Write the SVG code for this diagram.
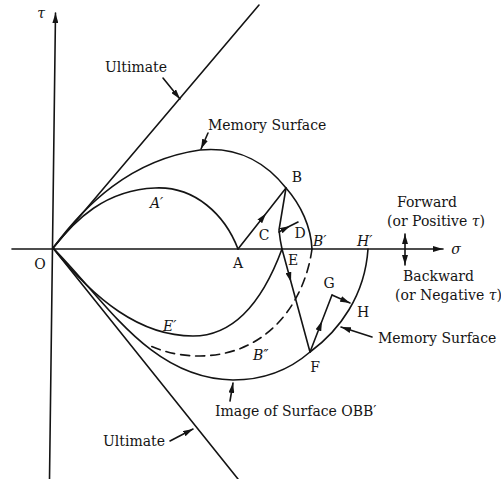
<svg xmlns="http://www.w3.org/2000/svg" width="501" height="479" viewBox="0 0 501 479">
<style>
.ln{fill:none;stroke:#141414;stroke-width:1.6;stroke-linecap:round;stroke-linejoin:round}
.dash{stroke-dasharray:9,6}
.t{font-family:"DejaVu Serif","Liberation Serif",serif;font-size:14px;fill:#141414}
.it{font-style:italic}
.m{text-anchor:middle}
</style>
<defs>
<marker id="ah" viewBox="0 0 10 6" refX="10" refY="3" markerWidth="10" markerHeight="6" markerUnits="userSpaceOnUse" orient="auto-start-reverse">
<path d="M0,0 L10,3 L0,6 z" fill="#141414"/>
</marker>
</defs>
<rect width="501" height="479" fill="#fff"/>
<g id="axes">
<line class="ln" x1="49.5" y1="479" x2="55.5" y2="13" marker-end="url(#ah)"/>
<line class="ln" x1="12" y1="249" x2="443" y2="249" marker-end="url(#ah)"/>
<line class="ln" x1="405" y1="234" x2="405" y2="265" marker-start="url(#ah)" marker-end="url(#ah)"/>
</g>
<g id="ultimate">
<line class="ln" x1="53" y1="248" x2="259" y2="5"/>
<line class="ln" x1="53" y1="248" x2="238" y2="479"/>
</g>
<g id="curves">
<path id="memory-upper" class="ln" d="M53,248 C85,205 130,160 200,150 C240,146 268,165 286,188 C301,205 311,227 312,249"/>
<path id="a-prime" class="ln" d="M53,248 C75,220 105,190 155,188 C195,186 225,215 238,249"/>
<path id="e-prime" class="ln" d="M53,248 C95,300 140,336 193,336 C233,336 262,303 282,249"/>
<path id="image-curve" class="ln" d="M53,248 C105,300 150,379 233,380 C270,380 295,365 310,352 C340,330 365,295 368,249"/>
<path id="b-dbl" class="ln dash" d="M312,249 C305,300 270,355 200,356 C175,356 160,350 148,345"/>
</g>
<g id="connectors">
<path class="ln" d="M238,249 L266,213.5 L286,188" marker-mid="url(#ah)"/>
<path class="ln" d="M286,188 L279,230 Q280,240 282,249"/>
<path class="ln" d="M282,249 L291,282 L310,352" marker-mid="url(#ah)"/>
<path class="ln" d="M279,232 L290,226 L298,222" marker-mid="url(#ah)"/>
<path class="ln" d="M310,352 L322,321 L332,295" marker-mid="url(#ah)"/>
<path class="ln" d="M332,295 L350,303" marker-end="url(#ah)"/>
<path class="ln" d="M163,78 L180,99" marker-end="url(#ah)"/>
<path class="ln" d="M208,133 L201,149" marker-end="url(#ah)"/>
<path class="ln" d="M170,441 L193,429" marker-end="url(#ah)"/>
<path class="ln" d="M230,401 L233,383" marker-end="url(#ah)"/>
<path class="ln" d="M372,337 L341,327" marker-end="url(#ah)"/>
</g>
<g id="labels">
<text class="t it m" x="41" y="18">τ</text>
<text class="t it m" x="456" y="254">σ</text>
<text class="t m" x="40" y="269">O</text>
<text class="t m" x="238" y="268">A</text>
<text class="t m" x="297" y="182">B</text>
<text class="t m" x="264" y="240">C</text>
<text class="t m" x="300" y="238">D</text>
<text class="t m" x="293" y="265">E</text>
<text class="t m" x="315" y="372">F</text>
<text class="t m" x="329" y="288">G</text>
<text class="t m" x="363" y="317">H</text>
<text class="t it" x="150" y="208">A′</text>
<text class="t it" x="313" y="246">B′</text>
<text class="t it" x="357" y="246">H′</text>
<text class="t it" x="163" y="331">E′</text>
<text class="t it" x="253" y="360">B″</text>
<text class="t" x="105" y="72">Ultimate</text>
<text class="t" x="208" y="130">Memory Surface</text>
<text class="t" x="103" y="446">Ultimate</text>
<text class="t" x="215" y="416">Image of Surface OBB′</text>
<text class="t" x="378" y="343">Memory Surface</text>
<text class="t m" x="427" y="207">Forward</text>
<text class="t m" x="436" y="226">(or Positive <tspan class="it">τ</tspan>)</text>
<text class="t" x="403" y="281">Backward</text>
<text class="t" x="395" y="300">(or Negative <tspan class="it">τ</tspan>)</text>
</g>
</svg>
